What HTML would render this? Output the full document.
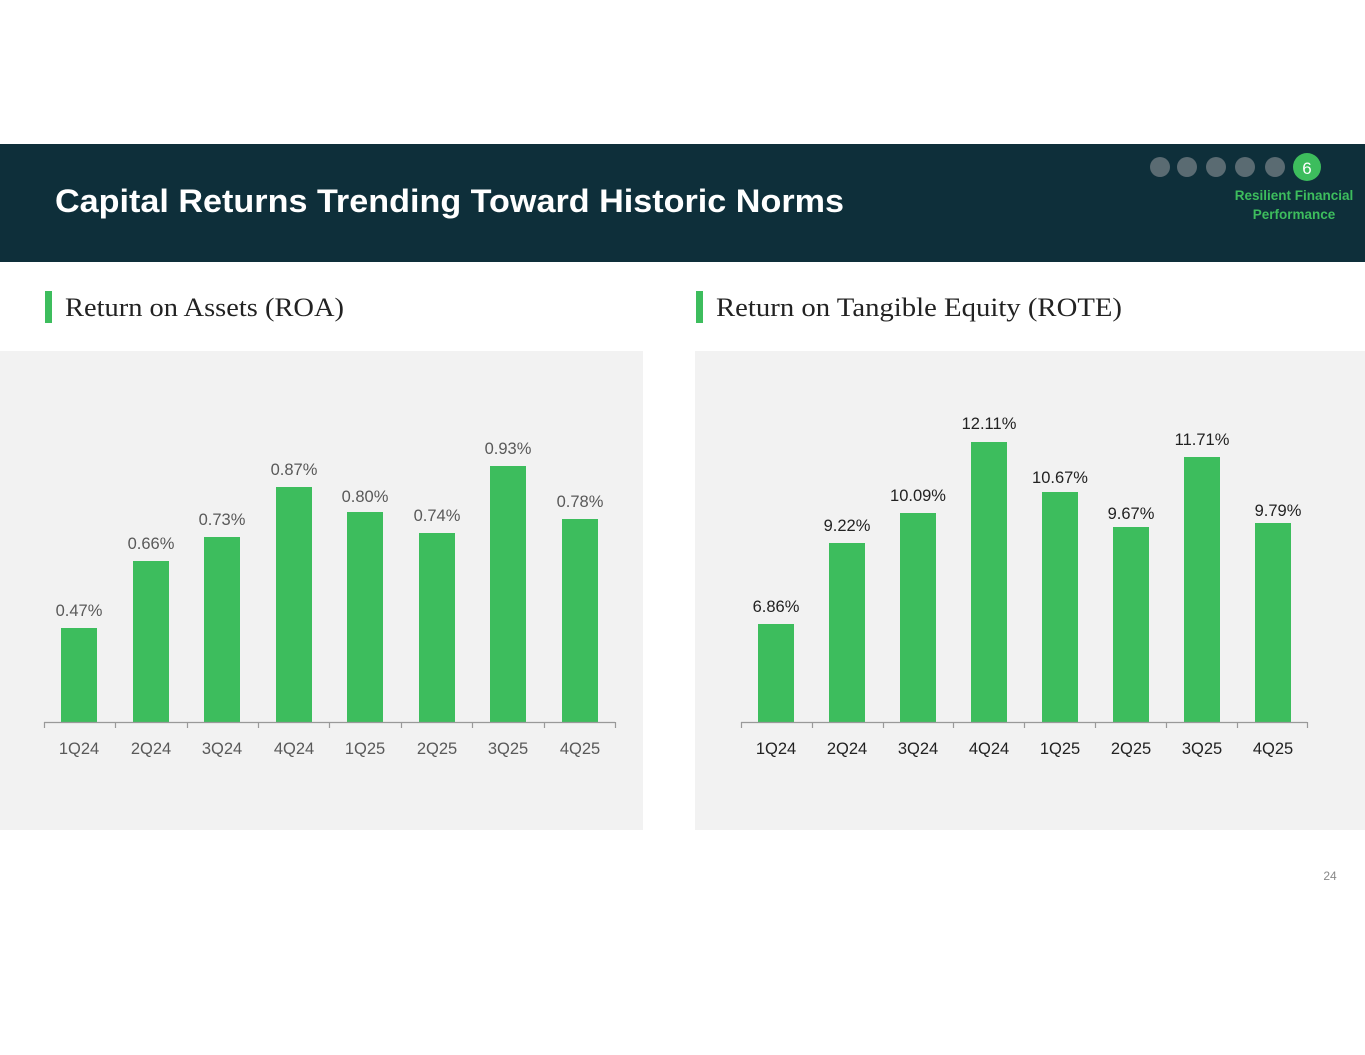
<!DOCTYPE html>
<html><head><meta charset="utf-8"><style>
html,body{margin:0;padding:0;background:#fff;}
body{width:1365px;height:1055px;position:relative;overflow:hidden;font-family:"Liberation Sans",sans-serif;}
</style></head><body>
<svg width="1365" height="1055" xmlns="http://www.w3.org/2000/svg" style="position:absolute;left:0;top:0">
<rect x="0" y="144" width="1365" height="118" fill="#0e2f3a"/>
<text x="55" y="212" font-family="Liberation Sans" font-weight="bold" font-size="32" fill="#fff" textLength="789" lengthAdjust="spacingAndGlyphs">Capital Returns Trending Toward Historic Norms</text>
<g fill="#5a6b72"><circle cx="1160" cy="167" r="10"/><circle cx="1187" cy="167" r="10"/><circle cx="1216" cy="167" r="10"/><circle cx="1245" cy="167" r="10"/><circle cx="1275" cy="167" r="10"/></g>
<circle cx="1307" cy="167" r="14" fill="#3dbd5d"/>
<text x="1307" y="174" text-anchor="middle" font-size="17" fill="#fff">6</text>
<text x="1294" y="200" text-anchor="middle" font-size="13.5" font-weight="bold" fill="#3dbd5d">Resilient Financial</text>
<text x="1294" y="219" text-anchor="middle" font-size="13.5" font-weight="bold" fill="#3dbd5d">Performance</text>

<rect x="45" y="291" width="7" height="32" fill="#3dbd5d"/>
<text x="65" y="316" font-family="Liberation Serif" font-size="26" fill="#222" textLength="279" lengthAdjust="spacingAndGlyphs">Return on Assets (ROA)</text>
<rect x="696" y="291" width="7" height="32" fill="#3dbd5d"/>
<text x="716" y="316" font-family="Liberation Serif" font-size="26" fill="#222" textLength="406" lengthAdjust="spacingAndGlyphs">Return on Tangible Equity (ROTE)</text>

<rect x="0" y="351" width="643" height="479" fill="#f2f2f2"/>
<rect x="695" y="351" width="670" height="479" fill="#f2f2f2"/>

<g fill="#3dbd5d">
<rect x="61" y="628" width="36" height="94"/><rect x="133" y="561" width="36" height="161"/><rect x="204" y="537" width="36" height="185"/><rect x="276" y="487" width="36" height="235"/><rect x="347" y="512" width="36" height="210"/><rect x="419" y="533" width="36" height="189"/><rect x="490" y="466" width="36" height="256"/><rect x="562" y="519" width="36" height="203"/>
<rect x="758" y="624" width="36" height="98"/><rect x="829" y="543" width="36" height="179"/><rect x="900" y="513" width="36" height="209"/><rect x="971" y="442" width="36" height="280"/><rect x="1042" y="492" width="36" height="230"/><rect x="1113" y="527" width="36" height="195"/><rect x="1184" y="457" width="36" height="265"/><rect x="1255" y="523" width="36" height="199"/>
</g>
<g stroke="#999" stroke-width="1.2" fill="none">
<line x1="44" y1="722.5" x2="615" y2="722.5"/>
<path d="M44.5 722v6M115.5 722v6M187.5 722v6M258.5 722v6M329.5 722v6M401.5 722v6M472.5 722v6M544.5 722v6M615.5 722v6"/>
<line x1="741" y1="722.5" x2="1307" y2="722.5"/>
<path d="M741.5 722v6M812.5 722v6M883.5 722v6M953.5 722v6M1024.5 722v6M1095.5 722v6M1166.5 722v6M1237.5 722v6M1307.5 722v6"/>
</g>
<g font-size="16.5" fill="#595959" text-anchor="middle">
<text x="79" y="616">0.47%</text><text x="151" y="549">0.66%</text><text x="222" y="525">0.73%</text><text x="294" y="475">0.87%</text><text x="365" y="502">0.80%</text><text x="437" y="521">0.74%</text><text x="508" y="454">0.93%</text><text x="580" y="507">0.78%</text>
<text x="79" y="754">1Q24</text><text x="151" y="754">2Q24</text><text x="222" y="754">3Q24</text><text x="294" y="754">4Q24</text><text x="365" y="754">1Q25</text><text x="437" y="754">2Q25</text><text x="508" y="754">3Q25</text><text x="580" y="754">4Q25</text>
</g>
<g font-size="16.5" fill="#222" text-anchor="middle">
<text x="776" y="612">6.86%</text><text x="847" y="531">9.22%</text><text x="918" y="501">10.09%</text><text x="989" y="429">12.11%</text><text x="1060" y="483">10.67%</text><text x="1131" y="519">9.67%</text><text x="1202" y="445">11.71%</text><text x="1278" y="516">9.79%</text>
<text x="776" y="754">1Q24</text><text x="847" y="754">2Q24</text><text x="918" y="754">3Q24</text><text x="989" y="754">4Q24</text><text x="1060" y="754">1Q25</text><text x="1131" y="754">2Q25</text><text x="1202" y="754">3Q25</text><text x="1273" y="754">4Q25</text>
</g>
<text x="1330" y="880" font-size="12" fill="#888" text-anchor="middle">24</text>
</svg>
</body></html>
